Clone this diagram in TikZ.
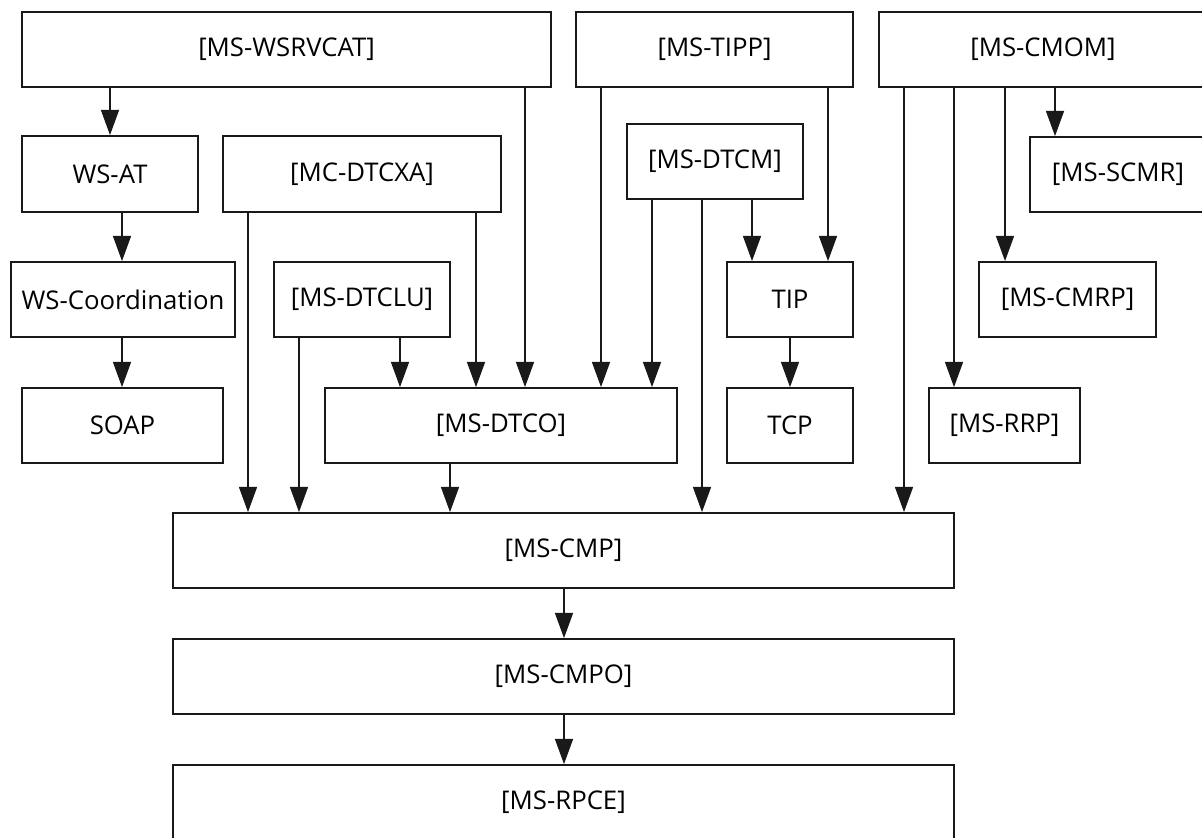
\documentclass[tikz,border=0pt]{standalone}
\usepackage{fontspec}
\setmainfont{Open Sans}
\usetikzlibrary{arrows.meta}
\tikzset{
  box/.style={draw=black!90, line width=1.3pt, inner sep=0pt, font=\fontsize{19.3pt}{22pt}\selectfont, text=black},
  arr/.style={draw=black!90, line width=1.3pt, -{Triangle[length=19pt,width=13.5pt]}}
}
\newcommand\bx[6]{\node[box, minimum width={(#4-#2)*0.75pt}, minimum height={(#5-#3)*0.75pt}] (#1) at ({(#2+#4)/2},{(#3+#5)/2}) {#6};}
\newcommand\conn[3]{\path (#3,0) coordinate (cx); \draw[arr] (#1.south -| cx) -- (#2.north -| cx);}
\begin{document}
\begin{tikzpicture}[x=0.75pt,y=-0.75pt]
\useasboundingbox (0,0) rectangle (1202,838);
\fill[white] (0,0) rectangle (1202,838);
\clip (0,0) rectangle (1202,838);
\bx{wsrvcat}{22}{12}{551}{87}{[MS-WSRVCAT]}
\bx{tipp}{576}{12}{853}{87}{[MS-TIPP]}
\bx{cmom}{879}{12}{1207}{87}{[MS-CMOM]}
\bx{wsat}{22}{136}{198}{212}{WS-AT}
\bx{dtcxa}{223}{136}{501}{212}{[MC-DTCXA]}
\bx{dtcm}{627}{124}{803}{199}{[MS-DTCM]}
\bx{scmr}{1030}{137}{1206}{212}{[MS-SCMR]}
\bx{wscoord}{11}{262}{235}{337}{WS-Coordination}
\bx{dtclu}{274}{262}{450}{337}{[MS-DTCLU]}
\bx{tip}{727}{262}{853}{337}{TIP}
\bx{cmrp}{979}{262}{1156}{337}{[MS-CMRP]}
\bx{soap}{22}{388}{223}{463}{SOAP}
\bx{dtco}{325}{388}{677}{463}{[MS-DTCO]}
\bx{tcp}{727}{388}{853}{463}{TCP}
\bx{rrp}{929}{388}{1080}{463}{[MS-RRP]}
\bx{cmp}{173}{513}{954}{588}{[MS-CMP]}
\bx{cmpo}{173}{639}{954}{714}{[MS-CMPO]}
\node[box, minimum width={781*0.75pt}, minimum height={75*0.75pt}] (rpce) at (563.5,802.5) {[MS-RPCE]};
\conn{wsrvcat}{wsat}{110}
\conn{wsrvcat}{dtco}{525}
\conn{wsat}{wscoord}{122}
\conn{wscoord}{soap}{122}
\conn{dtcxa}{cmp}{248}
\conn{dtcxa}{dtco}{476}
\conn{dtclu}{cmp}{299}
\conn{dtclu}{dtco}{400}
\conn{tipp}{dtco}{601}
\conn{tipp}{tip}{828}
\conn{dtcm}{dtco}{652}
\conn{dtcm}{cmp}{702}
\conn{dtcm}{tip}{752}
\conn{tip}{tcp}{790}
\conn{cmom}{cmp}{904}
\conn{cmom}{rrp}{954}
\conn{cmom}{cmrp}{1005}
\conn{cmom}{scmr}{1055}
\conn{dtco}{cmp}{450}
\conn{cmp}{cmpo}{564}
\conn{cmpo}{rpce}{564}
\end{tikzpicture}
\end{document}
